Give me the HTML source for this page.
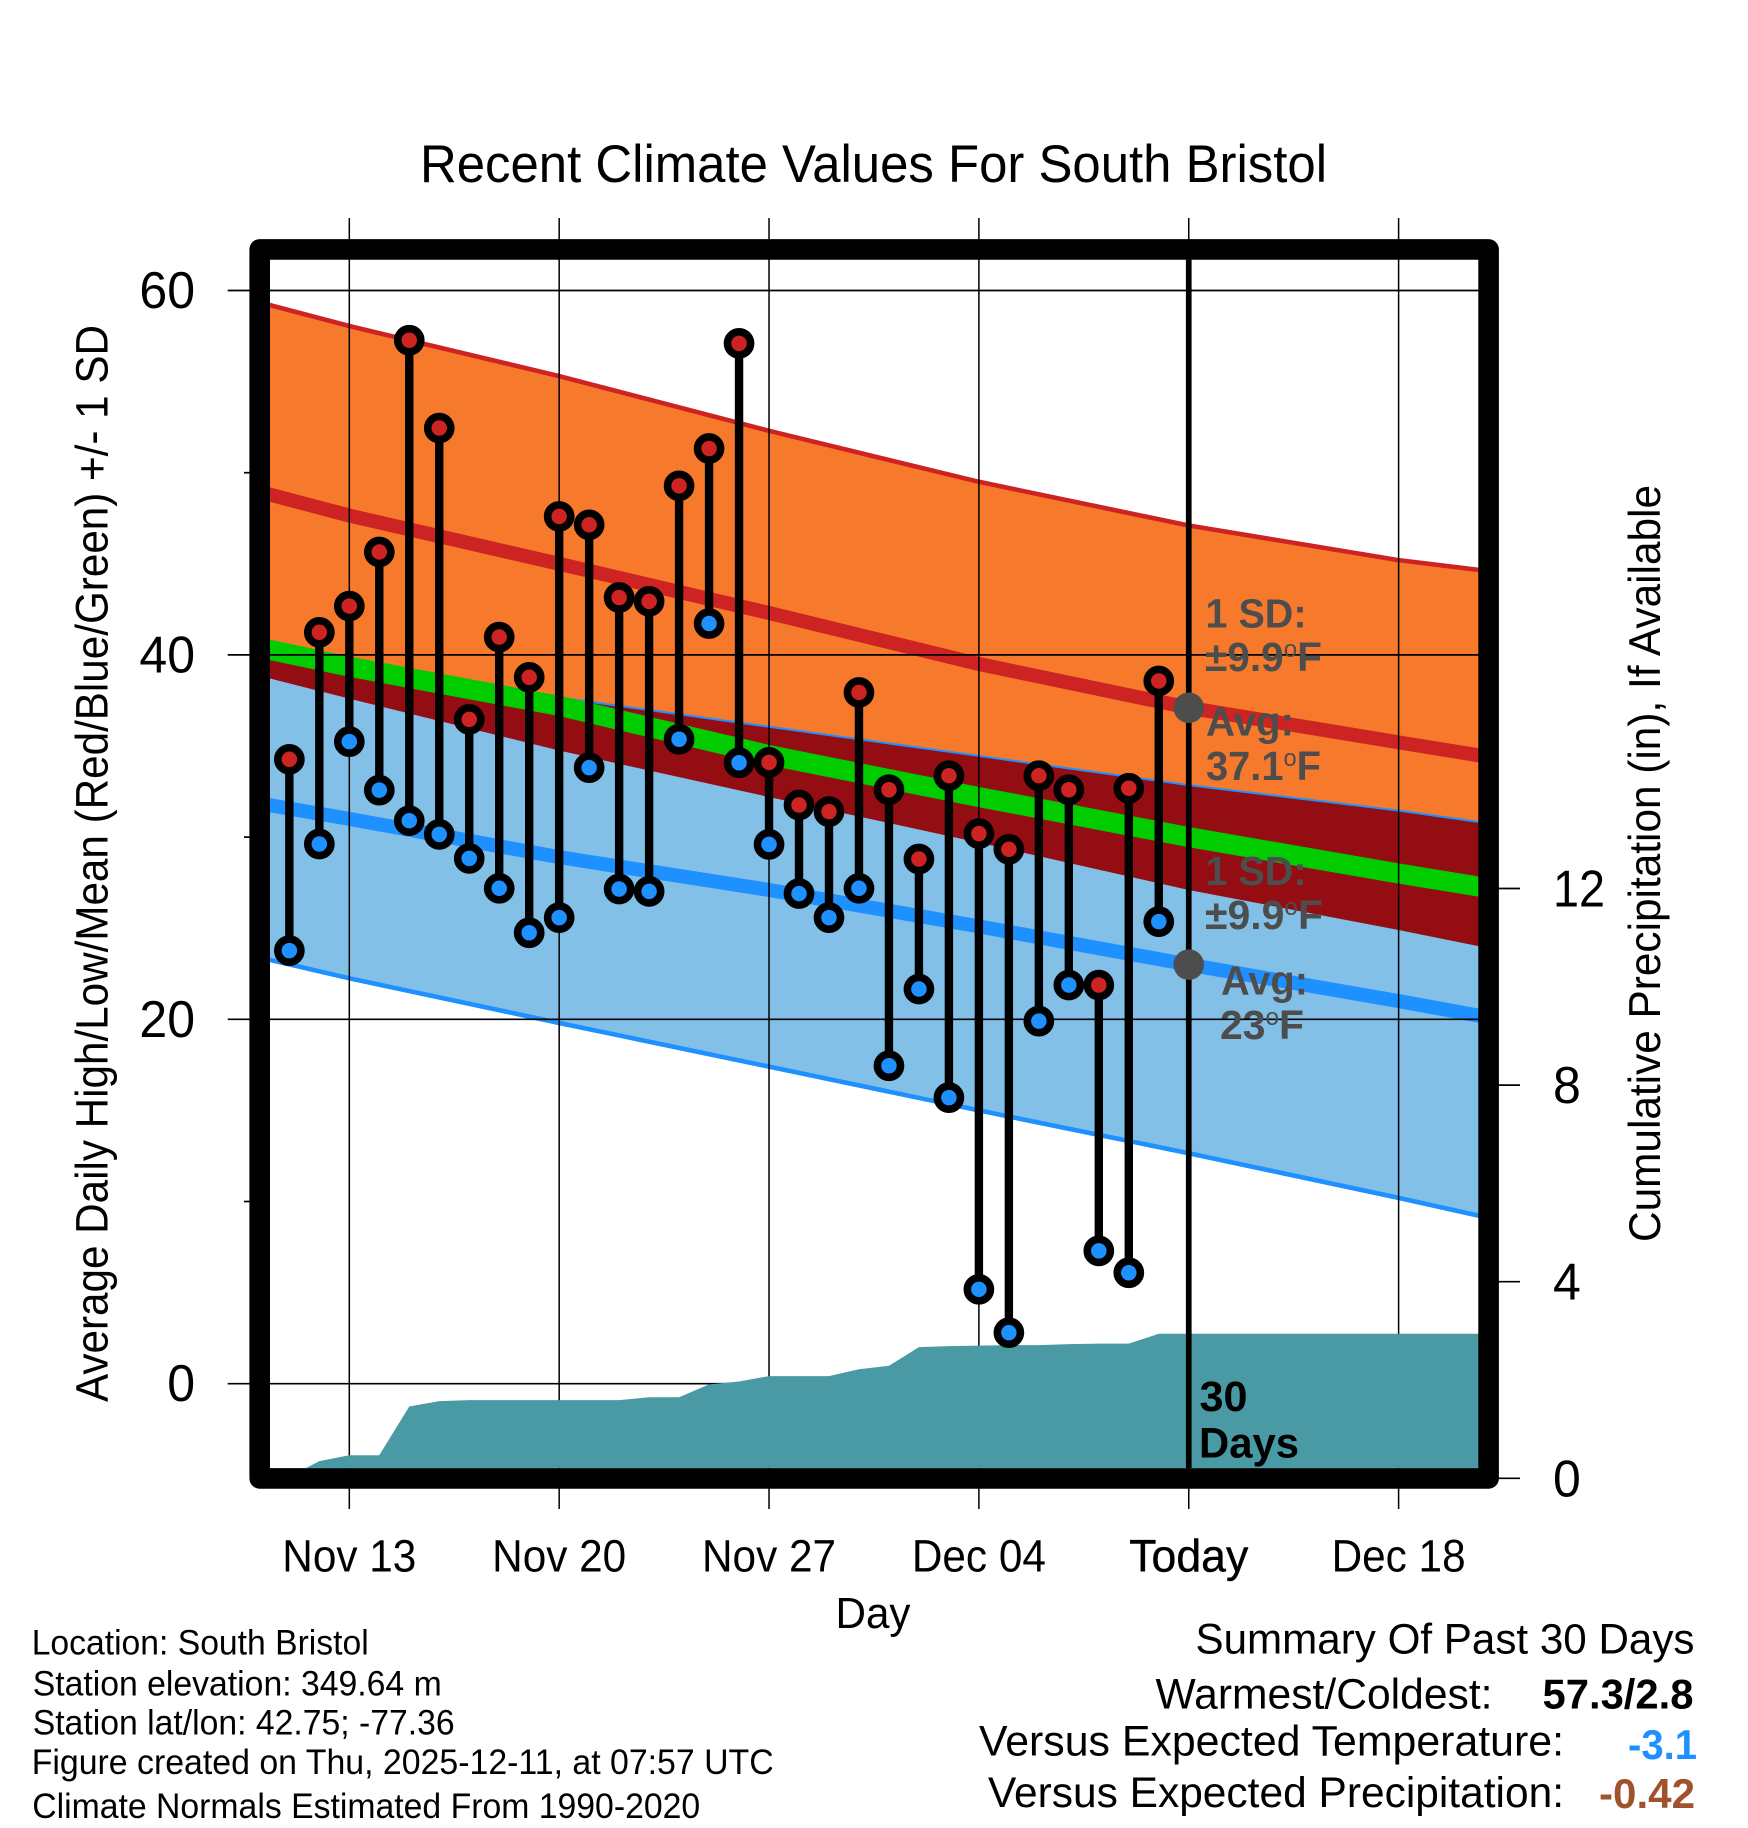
<!DOCTYPE html>
<html lang="en">
<head>
<meta charset="utf-8">
<title>Recent Climate Values For South Bristol</title>
<style>
html,body{margin:0;padding:0;background:#fff;}
svg{display:block;}
text{font-family:"Liberation Sans",Arial,sans-serif;fill:#000;}
.gray{font-weight:bold;font-size:40.5px;fill:#4d4d4d;}
.info{font-size:35px;}
.sum{font-size:42.5px;}
.sumv{font-size:42px;font-weight:bold;}
</style>
</head>
<body>
<svg id="chart" xmlns="http://www.w3.org/2000/svg" width="1748" height="1828" viewBox="0 0 1748 1828">
  <defs>
    <clipPath id="plot-clip"><rect x="270" y="259.6" width="1208.7" height="1208.4"/></clipPath>
  </defs>
  <text x="420" y="182" font-size="52.5" textLength="907" lengthAdjust="spacingAndGlyphs">Recent Climate Values For South Bristol</text>

  <g id="bands" clip-path="url(#plot-clip)"></g>
  <g id="grid"></g>
  <g id="precip" clip-path="url(#plot-clip)"></g>
  <g id="marks" clip-path="url(#plot-clip)"></g>
  <g id="today"></g>

  <text class="gray" x="1205.5" y="627.5" textLength="101" lengthAdjust="spacingAndGlyphs">1 SD:</text>
  <text class="gray" x="1205" y="670.9" textLength="117" lengthAdjust="spacingAndGlyphs">±9.9<tspan dy="-14" font-size="24" font-weight="normal">o</tspan><tspan dy="14">F</tspan></text>
  <text class="gray" x="1206" y="735.5" textLength="88" lengthAdjust="spacingAndGlyphs">Avg:</text>
  <text class="gray" x="1206" y="780" textLength="115" lengthAdjust="spacingAndGlyphs">37.1<tspan dy="-14" font-size="24" font-weight="normal">o</tspan><tspan dy="14">F</tspan></text>
  <text class="gray" x="1205.5" y="884.8" textLength="101" lengthAdjust="spacingAndGlyphs">1 SD:</text>
  <text class="gray" x="1205" y="928.8" textLength="118" lengthAdjust="spacingAndGlyphs">±9.9<tspan dy="-14" font-size="24" font-weight="normal">o</tspan><tspan dy="14">F</tspan></text>
  <text class="gray" x="1221" y="994.5" textLength="87" lengthAdjust="spacingAndGlyphs">Avg:</text>
  <text class="gray" x="1220" y="1038.8" textLength="84" lengthAdjust="spacingAndGlyphs">23<tspan dy="-14" font-size="24" font-weight="normal">o</tspan><tspan dy="14">F</tspan></text>

  <text x="1199.5" y="1411" font-size="43" font-weight="bold" textLength="48" lengthAdjust="spacingAndGlyphs">30</text>
  <text x="1199" y="1457.3" font-size="43" font-weight="bold" textLength="100" lengthAdjust="spacingAndGlyphs">Days</text>

  <rect x="259.7" y="249.4" width="1228.9" height="1229" fill="none" stroke="#000" stroke-width="20.6" stroke-linejoin="round"/>

  <g id="axis-labels"></g>

  <text transform="translate(107.5,1402) rotate(-90)" font-size="45" textLength="1077" lengthAdjust="spacingAndGlyphs">Average Daily High/Low/Mean (Red/Blue/Green) +/- 1 SD</text>
  <text transform="translate(1660,1242) rotate(-90)" font-size="44.5" textLength="757" lengthAdjust="spacingAndGlyphs">Cumulative Precipitation (in), If Available</text>
  <text x="873" y="1628" font-size="44" text-anchor="middle" textLength="75" lengthAdjust="spacingAndGlyphs">Day</text>

  <text class="info" x="31.7" y="1654.6" textLength="337" lengthAdjust="spacingAndGlyphs">Location: South Bristol</text>
  <text class="info" x="32.7" y="1695.6" textLength="409" lengthAdjust="spacingAndGlyphs">Station elevation: 349.64 m</text>
  <text class="info" x="32.7" y="1734.6" textLength="422" lengthAdjust="spacingAndGlyphs">Station lat/lon: 42.75; -77.36</text>
  <text class="info" x="31.7" y="1774" textLength="742" lengthAdjust="spacingAndGlyphs">Figure created on Thu, 2025-12-11, at 07:57 UTC</text>
  <text class="info" x="32.2" y="1818" textLength="668" lengthAdjust="spacingAndGlyphs">Climate Normals Estimated From 1990-2020</text>

  <text class="sum" x="1195.5" y="1653.4" textLength="499" lengthAdjust="spacingAndGlyphs">Summary Of Past 30 Days</text>
  <text class="sum" x="1155.5" y="1708.4" textLength="337" lengthAdjust="spacingAndGlyphs">Warmest/Coldest:</text>
  <text class="sumv" x="1542.5" y="1708.4" textLength="151" lengthAdjust="spacingAndGlyphs">57.3/2.8</text>
  <text class="sum" x="979" y="1755.4" textLength="585" lengthAdjust="spacingAndGlyphs">Versus Expected Temperature:</text>
  <text class="sumv" x="1628" y="1759" textLength="69" lengthAdjust="spacingAndGlyphs" style="fill:#1e90ff">-3.1</text>
  <text class="sum" x="988" y="1807" textLength="576" lengthAdjust="spacingAndGlyphs">Versus Expected Precipitation:</text>
  <text class="sumv" x="1599" y="1808" textLength="96" lengthAdjust="spacingAndGlyphs" style="fill:#a0522d">-0.42</text>
</svg>
<script>
// Daily observations, Nov 11 .. Dec 10 (deg F)
const dailyHigh = [34.27,41.24,42.68,45.65,57.27,52.45,36.46,40.98,38.77,47.6,47.14,43.15,42.94,49.28,51.33,57.1,34.1,31.76,31.4,37.94,32.6,28.8,33.37,30.19,29.33,33.37,32.6,21.88,32.68,38.57];
const dailyLow = [23.77,29.62,35.24,32.58,30.9,30.15,28.83,27.19,24.75,25.58,33.81,27.15,27.02,35.37,41.72,34.08,29.6,26.9,25.58,27.19,17.45,21.66,15.7,5.18,2.8,19.9,21.88,7.29,6.09,25.36];
// Cumulative precipitation (inches), Nov 11 .. Dec 10
const dailyPrecip = [0.03,0.35,0.47,0.47,1.46,1.57,1.59,1.59,1.59,1.59,1.59,1.59,1.65,1.65,1.91,1.97,2.08,2.08,2.08,2.22,2.29,2.67,2.69,2.70,2.71,2.71,2.73,2.74,2.74,2.94];
// Climate normals sampled at these day offsets from Nov 11
const normalDays = [-1,2,9,16,23,30,37,40];
const highPlusSd = [59.35,58.05,55.3,52.3,49.5,47.1,45.2,44.6];
const highMean = [48.95,47.65,45.0,42.3,39.5,37.1,35.2,34.4];
const highMinusSd = [38.85,37.6,34.75,32.2,29.7,27.1,24.9,23.9];
const lowPlusSd = [40.2,39.4,37.6,36.0,34.4,32.8,31.4,30.7];
const overallMean = [40.4,39.35,37.2,34.5,32.2,30.0,28.0,27.2];
const lowMean = [31.85,31.0,28.9,27.1,25.1,23.0,21.0,20.1];
const lowMinusSd = [23.4,22.25,19.8,17.4,15.0,12.65,10.2,9.1];
// Axis ticks
const xTickDays = [2,9,16,23,30,37];
const xTickLabels = ['Nov 13','Nov 20','Nov 27','Dec 04','Today','Dec 18'];
const todayDay = [30];
const todayMeans = [37.1,23.0];
const tempMajorTicks = [0,20,40,60];
const tempMinorTicks = [10,30,50];
const precipTicks = [0,4,8,12];
const plotEndDay = [40];

const NS = 'http://www.w3.org/2000/svg';
const xScale = d => 289.35 + 29.98 * d;
const yTemp = t => 1383.7 - 18.22 * t;
const yPrecip = p => 1478.3 - 49.15 * p;

function mk(parent, tag, attrs, txt) {
  const el = document.createElementNS(NS, tag);
  for (const k in attrs) el.setAttribute(k, attrs[k]);
  if (txt !== undefined) el.textContent = txt;
  parent.appendChild(el);
  return el;
}
function linePts(vals) {
  return normalDays.map((d, i) => xScale(d).toFixed(2) + ',' + yTemp(vals[i]).toFixed(2));
}
function bandPts(top, bottom) {
  return linePts(top).concat(linePts(bottom).reverse()).join(' ');
}

const bands = document.getElementById('bands');
const grid = document.getElementById('grid');
const precip = document.getElementById('precip');
const marks = document.getElementById('marks');
const today = document.getElementById('today');
const labels = document.getElementById('axis-labels');

let el;
el = mk(bands, 'polygon', {points: bandPts(highPlusSd, highMinusSd), fill: '#f77a2c'});


el = mk(bands, 'polygon', {points: bandPts(lowPlusSd, lowMinusSd), fill: '#82c0e8'});


el = mk(bands, 'polyline', {points: linePts(highPlusSd).join(' '), fill: 'none', stroke: '#cd2322', 'stroke-width': 4.6});


el = mk(bands, 'polyline', {points: linePts(lowMinusSd).join(' '), fill: 'none', stroke: '#1e90ff', 'stroke-width': 4.6});


el = mk(bands, 'polyline', {points: linePts(lowPlusSd).join(' '), fill: 'none', stroke: '#1e90ff', 'stroke-width': 4});


el = mk(bands, 'polygon', {points: bandPts(lowPlusSd, highMinusSd), fill: '#930d13'});


el = mk(bands, 'polyline', {points: linePts(highMean).join(' '), fill: 'none', stroke: '#cd2322', 'stroke-width': 14});


el = mk(bands, 'polyline', {points: linePts(lowMean).join(' '), fill: 'none', stroke: '#1e90ff', 'stroke-width': 14});


el = mk(bands, 'polyline', {points: linePts(overallMean).join(' '), fill: 'none', stroke: '#00cc00', 'stroke-width': 20});



xTickDays.forEach((d, i) => {
  const x = xScale(d);
  const g = mk(grid, 'line', {x1: x, x2: x, y1: 218, y2: 1509, stroke: '#000', 'stroke-width': 1.5});
  
  
  const isToday = xTickLabels[i] === 'Today';
  const t = mk(labels, 'text', {x: x, y: 1571.5, 'font-size': 45, 'text-anchor': 'middle', textLength: isToday ? 119 : 134, lengthAdjust: 'spacingAndGlyphs'}, xTickLabels[i]);
  
  
  if (isToday) { t.setAttribute('stroke', '#000'); t.setAttribute('stroke-width', '0.4'); }
});
tempMajorTicks.forEach(v => {
  const y = yTemp(v);
  const g = mk(grid, 'line', {x1: 227.7, x2: 1479, y1: y, y2: y, stroke: '#000', 'stroke-width': 1.7});
  
  
  const s = String(v);
  const t = mk(labels, 'text', {x: 195, y: y + 17.5, 'font-size': 52, 'text-anchor': 'end', textLength: s.length * 27.8, lengthAdjust: 'spacingAndGlyphs'}, s);
  
  
});
tempMinorTicks.forEach(v => {
  const y = yTemp(v);
  const g = mk(grid, 'line', {x1: 244, x2: 252, y1: y, y2: y, stroke: '#000', 'stroke-width': 1.7});
  
  
});
precipTicks.forEach(v => {
  const y = yPrecip(v);
  const g = mk(grid, 'line', {x1: 1496, x2: 1520, y1: y, y2: y, stroke: '#000', 'stroke-width': 1.7});
  
  
  const s = String(v);
  const t = mk(labels, 'text', {x: 1553, y: y + 18, 'font-size': 52, textLength: s.length > 1 ? 52 : 27.8, lengthAdjust: 'spacingAndGlyphs'}, s);
  
  
});

const precipPts = dailyPrecip.map((p, d) => xScale(d).toFixed(2) + ',' + yPrecip(p).toFixed(2));
precipPts.push(xScale(plotEndDay[0]).toFixed(2) + ',' + yPrecip(dailyPrecip[dailyPrecip.length - 1]).toFixed(2));
precipPts.push(xScale(plotEndDay[0]).toFixed(2) + ',' + yPrecip(0).toFixed(2));
precipPts.push(xScale(0).toFixed(2) + ',' + yPrecip(0).toFixed(2));
el = mk(precip, 'polygon', {points: precipPts.join(' '), fill: '#4a9aa5'});



dailyHigh.forEach((hi, d) => {
  const lo = dailyLow[d];
  const x = xScale(d);
  const stem = mk(marks, 'line', {x1: x, x2: x, y1: yTemp(hi), y2: yTemp(lo), stroke: '#000', 'stroke-width': 8.4});
  
  
  const h = mk(marks, 'circle', {cx: x, cy: yTemp(hi), r: 11.55, fill: '#cd2322', stroke: '#000', 'stroke-width': 7.6});
  
  
  const l = mk(marks, 'circle', {cx: x, cy: yTemp(lo), r: 11.55, fill: '#1e90ff', stroke: '#000', 'stroke-width': 7.6});
  
  
});

const todayX = xScale(todayDay[0]);
el = mk(today, 'line', {x1: todayX, x2: todayX, y1: 259.6, y2: 1468, stroke: '#000', 'stroke-width': 5.7});


todayMeans.forEach(v => {
  const c = mk(today, 'circle', {cx: todayX, cy: yTemp(v), r: 15.3, fill: '#4d4d4d'});
  
  
});
</script>
</body>
</html>
